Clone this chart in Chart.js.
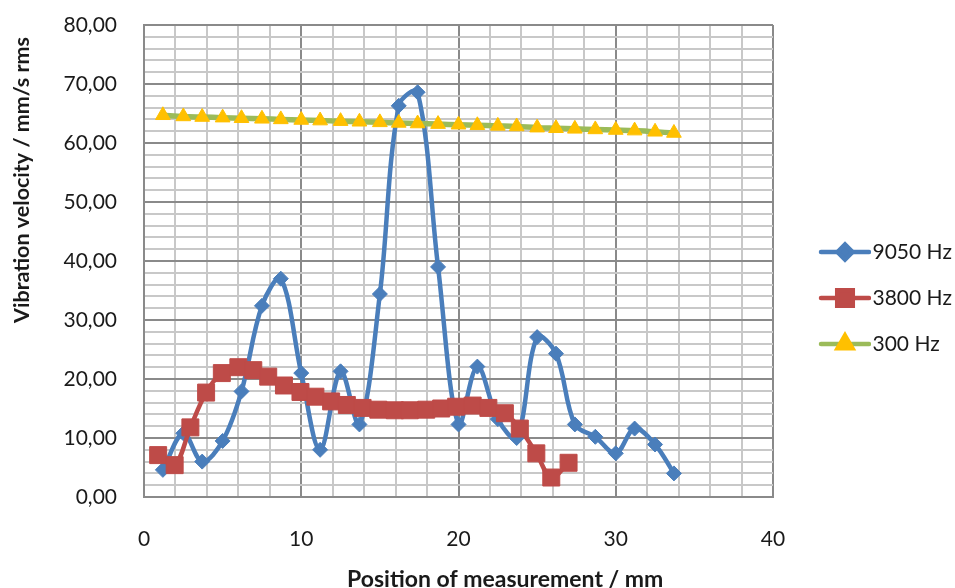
<!DOCTYPE html>
<html>
<head>
<meta charset="utf-8">
<title>Vibration velocity</title>
<script src="https://cdn.jsdelivr.net/npm/chart.js@4.4.1/dist/chart.umd.min.js"></script>
<style>
    html, body { margin: 0; padding: 0; background: #fff; }
    #wrap { width: 955px; height: 588px; position: relative; }
</style>
</head>
<body>
<div id="wrap"><canvas id="vibrationChart"></canvas></div>
<script>
const pos9050 = [1.2, 2.5, 3.7, 5.0, 6.2, 7.5, 8.7, 10.0, 11.2, 12.5, 13.7, 15.0, 16.2, 17.4, 18.7, 20.0, 21.2, 22.5, 23.7, 25.0, 26.2, 27.4, 28.7, 30.0, 31.2, 32.5, 33.7];
const vel9050 = [4.6, 10.8, 6.0, 9.5, 17.9, 32.4, 37.0, 21.0, 8.0, 21.3, 12.3, 34.4, 66.3, 68.6, 39.0, 12.3, 22.1, 13.2, 10.0, 27.1, 24.3, 12.3, 10.2, 7.4, 11.6, 8.9, 4.0];

const pos3800 = [0.9, 1.95, 2.95, 3.95, 4.95, 6.0, 6.95, 7.9, 8.9, 9.95, 10.9, 11.9, 12.9, 13.9, 14.9, 15.95, 16.9, 17.95, 18.9, 19.85, 20.9, 21.9, 22.95, 23.9, 24.95, 25.9, 27.0];
const vel3800 = [7.1, 5.4, 11.8, 17.7, 21.0, 22.0, 21.5, 20.4, 18.9, 17.8, 17.0, 16.2, 15.6, 15.1, 14.8, 14.7, 14.7, 14.8, 15.0, 15.3, 15.5, 15.1, 14.2, 11.6, 7.4, 3.3, 5.8];

const pos300 = [1.2, 2.5, 3.7, 5.0, 6.2, 7.5, 8.7, 10.0, 11.2, 12.5, 13.7, 15.0, 16.2, 17.4, 18.7, 20.0, 21.2, 22.5, 23.7, 25.0, 26.2, 27.4, 28.7, 30.0, 31.2, 32.5, 33.7];
const vel300 = [64.7, 64.5, 64.4, 64.3, 64.2, 64.1, 64.0, 63.9, 63.8, 63.7, 63.6, 63.5, 63.4, 63.3, 63.2, 63.1, 63.0, 62.9, 62.8, 62.6, 62.5, 62.4, 62.3, 62.2, 62.1, 61.9, 61.7];

const seriesLabels = ['9050 Hz', '3800 Hz', '300 Hz'];
const xMajorTicks = [0, 10, 20, 30, 40];
const yMajorTicks = [0, 10, 20, 30, 40, 50, 60, 70, 80];
const xTitle = 'Position of measurement / mm';
const yTitle = 'Vibration velocity / mm/s rms';

const BLUE = '#4A7EBB';
const RED = '#BE4B48';
const GREEN = '#9BBB59';
const YELLOW = '#FFC000';
const TEXT = '#1a1a1a';

Chart.defaults.font.family = 'Lato';

function toPoints(xs, ys) {
    return xs.map((x, i) => ({ x: x, y: ys[i] }));
}

// legend symbol: short line with the marker in the middle
function makeLegendIcon(lineColor, markerFill, markerStroke, style, radius) {
    const c = document.createElement('canvas');
    c.width = 82;
    c.height = 26;
    const g = c.getContext('2d');
    g.strokeStyle = lineColor;
    g.lineWidth = 4.5;
    g.lineCap = 'round';
    g.beginPath();
    g.moveTo(32, 13);
    g.lineTo(80, 13);
    g.stroke();
    g.fillStyle = markerFill;
    g.strokeStyle = markerStroke;
    Chart.helpers.drawPoint(g, { pointStyle: style, rotation: 0, radius: radius, borderWidth: 1 }, 56, 13);
    return c;
}

const legendIcons = [
    makeLegendIcon(BLUE, BLUE, BLUE, 'rectRot', 7.5),
    makeLegendIcon(RED, RED, RED, 'rect', 11),
    makeLegendIcon(GREEN, YELLOW, YELLOW, 'triangle', 8.5)
];

// axis titles (placed like the spreadsheet chart, not centred on the plot)
const axisTitlesPlugin = {
    id: 'axisTitles',
    afterDraw(chart) {
        const ctx = chart.ctx;
        ctx.save();
        ctx.fillStyle = TEXT;
        ctx.textAlign = 'center';

        ctx.font = 'bold 23px Lato';
        ctx.textBaseline = 'alphabetic';
        ctx.fillText(xTitle, chart.width * 0.529, 587);

        ctx.font = 'bold 21.5px Lato';
        ctx.textBaseline = 'middle';
        ctx.translate(22, 180);
        ctx.rotate(-Math.PI / 2);
        ctx.fillText(yTitle, 0, 0);
        ctx.restore();
    }
};

const gridColor = (ctx) => (ctx.tick && ctx.tick.value % 10 === 0) ? '#8a8a8a' : '#c8c8c8';

new Chart(document.getElementById('vibrationChart'), {
    type: 'scatter',
    data: {
        datasets: [
            {
                label: seriesLabels[0],
                data: toPoints(pos9050, vel9050),
                showLine: true,
                borderColor: BLUE,
                backgroundColor: BLUE,
                borderWidth: 4.5,
                tension: 0.35,
                pointStyle: 'rectRot',
                pointRadius: 7.5,
                pointBorderWidth: 1,
                order: 3
            },
            {
                label: seriesLabels[1],
                data: toPoints(pos3800, vel3800),
                showLine: true,
                borderColor: RED,
                backgroundColor: RED,
                borderWidth: 4.5,
                tension: 0.35,
                pointStyle: 'rect',
                pointRadius: 12,
                pointBorderWidth: 1,
                order: 2
            },
            {
                label: seriesLabels[2],
                data: toPoints(pos300, vel300),
                showLine: true,
                borderColor: GREEN,
                backgroundColor: YELLOW,
                pointBorderColor: YELLOW,
                borderWidth: 5.5,
                tension: 0.35,
                pointStyle: 'triangle',
                pointRadius: 8.5,
                pointBorderWidth: 1,
                order: 1
            }
        ]
    },
    options: {
        responsive: true,
        maintainAspectRatio: false,
        animation: false,
        layout: {
            padding: { top: 25, right: 0, bottom: 17, left: 0 }
        },
        scales: {
            x: {
                type: 'linear',
                min: 0,
                max: 40,
                afterFit: (scale) => { scale.height = 74; },
                afterBuildTicks: (scale) => {
                    const t = [];
                    for (let v = 0; v <= 40; v += 2) t.push({ value: v });
                    scale.ticks = t;
                },
                grid: { color: gridColor, lineWidth: 2, drawTicks: false },
                border: { color: '#8a8a8a', width: 2 },
                ticks: {
                    autoSkip: false,
                    maxRotation: 0,
                    padding: 30,
                    color: TEXT,
                    font: { size: 21 },
                    callback: (v) => xMajorTicks.includes(v) ? String(v) : ''
                }
            },
            y: {
                min: 0,
                max: 80,
                afterFit: (scale) => {
                    scale.width = 144;
                    scale.paddingTop = 0;
                    scale.paddingBottom = 0;
                },
                afterBuildTicks: (scale) => {
                    const t = [];
                    for (let v = 0; v <= 80; v += 2) t.push({ value: v });
                    scale.ticks = t;
                },
                grid: { color: gridColor, lineWidth: 2, drawTicks: false },
                border: { color: '#8a8a8a', width: 2 },
                ticks: {
                    autoSkip: false,
                    padding: 27,
                    color: TEXT,
                    font: { size: 21 },
                    callback: (v) => yMajorTicks.includes(v) ? v.toFixed(2).replace('.', ',') : ''
                }
            }
        },
        plugins: {
            legend: {
                position: 'right',
                maxWidth: 182,
                labels: {
                    usePointStyle: true,
                    pointStyleWidth: 64,
                    padding: 25,
                    color: TEXT,
                    font: { size: 21 },
                    generateLabels: (chart) => chart.data.datasets.map((ds, i) => ({
                        text: ds.label,
                        pointStyle: legendIcons[i],
                        fillStyle: ds.borderColor,
                        strokeStyle: ds.borderColor,
                        lineWidth: 0,
                        fontColor: TEXT,
                        hidden: !chart.isDatasetVisible(i),
                        datasetIndex: i
                    }))
                }
            },
            tooltip: { enabled: false }
        }
    },
    plugins: [axisTitlesPlugin]
});
</script>
</body>
</html>
